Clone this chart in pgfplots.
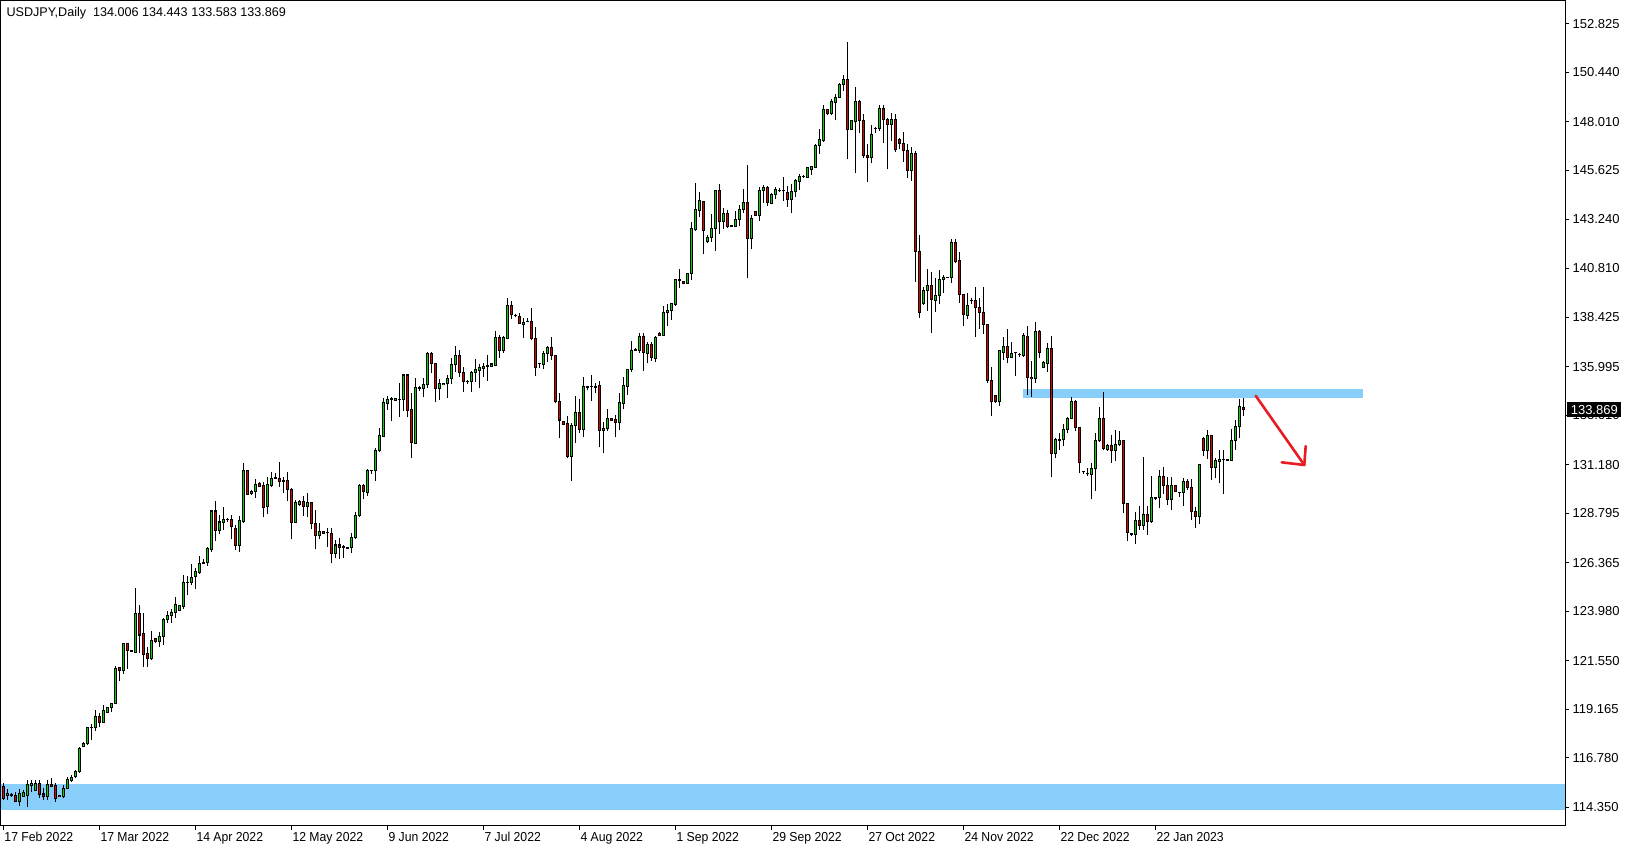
\documentclass[border=0pt]{standalone}
\usepackage{fontspec}
\setmainfont{Liberation Sans}
\newfontfamily\datefont{Liberation Sans}[FakeStretch=0.94]
\usepackage{pgfplots}
\usepackage{pgfplotstable}
\pgfplotsset{compat=1.18}

\definecolor{bullc}{RGB}{0,215,0}
\definecolor{bearc}{RGB}{225,0,0}
\definecolor{zone}{RGB}{135,206,250}
\definecolor{arrowred}{RGB}{232,28,36}

% daily USDJPY candles, k = bar number (6 bars a week)
\pgfplotstableread{
k o h l c
0 115.39 115.52 114.70 114.79
1 114.92 115.24 114.70 115.03
2 114.98 115.03 114.87 114.93
3 114.93 115.08 114.60 114.62
4 114.62 115.23 114.43 115.03
5 114.90 115.19 114.87 115.05
6 114.92 115.69 114.38 115.47
7 115.42 115.69 115.11 115.52
8 115.16 115.69 115.14 115.52
9 115.52 115.69 114.82 114.98
10 115.00 115.28 114.70 114.87
11 114.87 115.69 114.70 115.47
12 115.47 115.77 115.36 115.39
13 115.44 115.52 114.62 114.79
14 114.93 114.95 114.83 114.87
15 114.87 115.44 114.79 115.28
16 115.26 115.85 115.23 115.69
17 115.65 115.93 115.60 115.82
18 115.85 116.18 115.77 116.10
19 116.10 117.32 116.05 117.24
20 117.32 117.57 117.29 117.49
21 117.49 118.31 117.40 118.27
22 118.27 118.44 117.65 118.29
23 118.27 119.12 118.11 118.80
24 118.83 118.96 118.31 118.50
25 118.50 119.37 118.47 119.12
26 118.99 119.29 118.96 119.25
27 119.24 119.48 119.04 119.45
28 119.45 121.29 119.42 121.17
29 121.19 121.25 120.55 121.06
30 121.06 122.43 120.89 122.37
31 122.37 122.41 121.15 122.05
32 122.03 122.07 121.99 122.02
33 121.94 125.10 121.91 123.87
34 123.87 124.28 121.91 122.81
35 122.86 123.88 121.26 121.85
36 121.91 122.24 121.26 121.67
37 121.64 123.01 121.59 122.52
38 122.62 122.68 122.44 122.49
39 122.49 122.98 122.24 122.73
40 122.73 123.63 122.32 123.58
41 123.55 124.01 123.42 123.78
42 123.76 124.09 123.42 123.93
43 123.93 124.70 123.63 124.32
44 124.03 124.25 123.99 124.24
45 124.21 125.76 124.09 125.40
46 125.40 125.71 124.75 125.38
47 125.40 126.28 125.27 125.65
48 125.66 126.09 125.06 125.91
49 125.88 126.69 125.81 126.33
50 126.33 126.53 126.28 126.36
51 126.36 127.15 126.22 127.07
52 127.02 128.95 126.91 128.90
53 128.90 129.40 127.45 127.94
54 127.94 128.71 127.77 128.36
55 128.33 129.12 127.97 128.50
56 128.50 128.58 128.38 128.48
57 128.50 128.71 127.51 128.13
58 128.05 128.22 126.99 127.20
59 127.20 128.66 126.91 128.45
60 128.38 131.25 128.30 130.87
61 130.87 130.92 129.69 129.72
62 129.74 129.94 129.69 129.87
63 129.85 130.46 129.56 130.21
64 130.23 130.30 130.07 130.10
65 130.13 130.34 128.59 129.08
66 129.12 130.59 128.74 130.18
67 130.15 130.80 130.07 130.51
68 130.51 130.75 130.46 130.53
69 130.51 131.33 130.10 130.34
70 130.42 130.59 129.77 130.37
71 130.42 130.83 129.41 129.96
72 129.96 130.01 127.51 128.34
73 128.34 129.44 128.33 129.33
74 129.23 129.44 129.15 129.38
75 129.38 129.65 128.67 129.10
76 129.10 129.77 128.62 129.33
77 129.33 129.35 128.00 128.29
78 128.29 128.95 127.02 127.70
79 127.70 128.33 127.51 127.87
80 127.90 127.93 127.77 127.80
81 127.85 128.05 127.12 127.84
82 127.80 128.05 126.33 126.82
83 126.82 127.48 126.58 127.23
84 127.23 127.56 126.53 127.12
85 127.13 127.23 126.58 127.14
86 127.09 127.15 127.02 127.08
87 127.12 127.84 126.85 127.61
88 127.61 128.87 127.53 128.69
89 128.69 130.23 128.59 130.14
90 130.14 130.23 129.47 129.85
91 129.82 130.95 129.64 130.87
92 130.87 130.93 130.72 130.90
93 130.87 131.98 130.39 131.88
94 131.88 132.96 131.81 132.62
95 132.58 134.43 132.52 134.25
96 134.19 134.55 133.86 134.40
97 134.40 134.48 133.34 134.41
98 134.32 134.45 134.32 134.43
99 134.38 135.17 133.53 134.37
100 134.37 135.60 133.83 135.58
101 135.58 135.60 133.50 133.84
102 133.89 134.68 131.49 132.27
103 132.22 135.42 132.17 134.97
104 134.97 135.04 134.81 134.93
105 134.92 135.42 134.52 135.09
106 135.09 136.73 134.92 136.64
107 136.64 136.73 135.66 136.15
108 136.15 136.19 134.24 134.92
109 134.92 135.37 134.35 135.17
110 135.09 135.20 135.07 135.17
111 135.14 135.58 134.47 135.42
112 135.42 136.40 135.12 136.10
113 136.10 137.00 135.74 136.56
114 136.55 136.81 135.50 135.71
115 135.71 135.99 134.73 135.25
116 135.25 135.33 135.14 135.26
117 135.25 135.78 134.76 135.71
118 135.71 136.37 135.22 135.83
119 135.81 136.10 134.92 135.94
120 135.91 136.19 135.50 136.02
121 136.02 136.56 135.30 136.04
122 136.01 136.13 136.00 136.12
123 136.07 137.76 136.04 137.43
124 137.43 137.54 136.43 136.76
125 136.77 137.51 136.68 137.43
126 137.38 139.35 137.33 138.97
127 138.97 139.21 138.33 138.53
128 138.52 138.59 138.41 138.51
129 138.46 138.61 138.07 138.12
130 138.07 138.36 137.38 138.18
131 138.22 138.40 138.17 138.23
132 138.23 138.85 137.30 137.38
133 137.38 137.95 135.55 135.96
134 136.15 136.16 135.94 136.14
135 136.10 136.76 135.87 136.64
136 136.64 137.02 136.23 136.92
137 136.92 137.43 136.32 136.53
138 136.56 136.57 134.19 134.27
139 134.30 134.68 132.47 133.37
140 133.29 133.30 133.12 133.17
141 133.21 133.57 131.52 131.57
142 131.57 133.21 130.39 133.12
143 133.09 134.55 132.26 133.75
144 133.75 134.40 132.75 132.91
145 132.91 135.47 132.52 135.01
146 134.96 135.04 134.84 135.01
147 135.01 135.58 134.32 135.00
148 135.00 135.20 134.68 134.97
149 135.07 135.29 132.03 132.85
150 132.83 133.29 131.73 132.96
151 132.96 133.89 132.85 133.45
152 133.42 133.48 133.32 133.35
153 133.40 133.62 132.52 133.24
154 133.24 134.68 132.88 134.24
155 134.19 135.47 133.89 135.07
156 135.01 135.88 134.60 135.86
157 135.86 137.25 135.71 136.79
158 136.79 136.89 136.78 136.84
159 136.79 137.66 136.68 137.48
160 137.48 137.66 135.79 136.69
161 136.64 137.19 136.15 137.10
162 137.10 137.20 136.27 136.45
163 136.38 137.51 136.20 137.43
164 137.64 137.68 137.50 137.51
165 137.53 138.99 137.51 138.66
166 138.64 139.05 138.00 138.76
167 138.76 139.13 138.27 139.07
168 139.02 140.27 138.99 140.25
169 140.25 140.79 139.84 140.24
170 140.18 140.20 140.03 140.07
171 140.08 140.61 140.07 140.57
172 140.57 143.11 140.25 142.78
173 142.75 144.99 142.67 143.72
174 143.68 144.57 143.32 144.13
175 144.11 144.13 141.51 142.67
176 142.13 142.46 142.05 142.34
177 142.34 143.49 142.11 142.78
178 142.77 144.67 141.67 144.62
179 144.62 144.96 142.51 143.11
180 143.11 143.78 142.77 143.49
181 143.49 143.68 142.78 142.87
182 142.90 142.95 142.87 142.89
183 142.87 143.64 142.84 143.23
184 143.23 143.93 142.92 143.72
185 143.72 144.70 143.55 144.06
186 144.06 145.89 140.33 142.28
187 142.28 143.44 141.75 143.28
188 143.62 143.65 143.39 143.42
189 143.42 144.83 143.16 144.65
190 144.65 144.91 144.04 144.80
191 144.80 144.86 143.90 144.04
192 144.01 144.50 143.98 144.44
193 144.45 144.80 144.21 144.70
194 144.64 144.75 144.57 144.63
195 144.63 145.29 144.14 144.62
196 144.55 144.88 143.85 144.21
197 144.21 144.94 143.52 144.60
198 144.60 145.19 144.34 145.11
199 145.09 145.43 144.67 145.35
200 145.32 145.39 145.27 145.33
201 145.30 145.81 145.27 145.76
202 145.65 145.86 145.40 145.81
203 145.78 146.93 145.73 146.86
204 146.84 147.66 146.44 147.17
205 147.09 148.84 147.04 148.63
206 148.60 148.63 148.35 148.40
207 148.40 149.12 148.35 148.99
208 148.97 149.37 148.10 149.22
209 149.20 149.94 149.17 149.86
210 149.86 150.32 149.53 150.07
211 150.07 151.92 146.17 147.65
212 147.65 148.10 147.61 148.07
213 148.02 149.71 145.49 148.99
214 148.99 149.09 147.48 148.09
215 148.09 148.40 146.22 146.35
216 146.37 146.93 145.08 146.25
217 146.25 147.86 145.98 147.40
218 147.70 147.78 147.48 147.69
219 147.68 148.84 147.58 148.68
220 148.68 148.84 146.96 148.14
221 148.15 148.22 145.68 147.89
222 147.89 148.43 147.09 148.15
223 148.14 148.38 146.55 146.66
224 147.16 147.20 146.68 146.96
225 146.96 147.53 146.06 146.60
226 146.61 146.93 145.27 145.63
227 145.63 146.76 145.13 146.44
228 146.44 146.58 140.16 141.65
229 141.65 142.46 138.40 138.64
230 139.10 139.92 139.02 139.71
231 139.72 140.79 138.74 139.98
232 139.98 140.64 137.66 139.30
233 139.26 140.33 138.69 139.49
234 139.47 140.74 139.07 140.28
235 140.26 140.49 139.62 140.39
236 140.36 140.39 140.33 140.35
237 140.35 142.24 140.12 142.11
238 142.11 142.24 141.06 141.15
239 141.18 141.61 139.13 139.53
240 139.54 139.55 138.00 138.56
241 138.51 139.59 138.35 139.00
242 139.23 139.38 139.07 139.22
243 139.26 139.89 137.46 138.90
244 138.90 139.35 137.86 138.64
245 138.67 139.89 137.59 138.07
246 138.07 138.08 135.17 135.30
247 135.33 135.95 133.56 134.27
248 134.58 134.60 134.22 134.27
249 134.27 136.81 134.06 136.76
250 136.67 137.43 136.31 137.00
251 137.00 137.82 136.15 136.45
252 136.45 137.22 136.40 136.66
253 136.67 136.72 135.55 136.68
254 136.58 136.67 136.45 136.57
255 136.54 137.62 136.48 137.54
256 137.49 137.98 134.60 135.46
257 135.46 136.28 134.51 135.40
258 135.40 138.16 135.20 137.74
259 137.74 137.79 136.40 136.69
260 135.95 136.28 135.94 136.18
261 136.15 137.13 135.74 136.89
262 136.89 137.49 130.55 131.73
263 131.73 132.50 131.48 132.39
264 132.38 132.71 131.89 132.39
265 132.39 133.15 132.09 132.88
266 132.88 133.53 132.71 133.45
267 133.43 134.48 133.40 134.30
268 134.30 134.35 132.84 133.01
269 133.01 133.04 130.75 131.27
270 130.83 130.86 130.72 130.82
271 130.75 130.99 130.63 130.76
272 130.70 131.24 129.47 130.99
273 130.99 132.71 129.90 132.34
274 132.34 134.02 132.30 133.42
275 133.42 134.76 131.89 131.98
276 131.93 132.19 131.86 132.11
277 132.14 132.63 131.27 131.89
278 131.89 132.88 131.37 132.19
279 132.16 132.84 132.11 132.34
280 132.34 132.39 128.82 129.28
281 129.28 129.30 127.44 127.85
282 127.78 127.84 127.69 127.77
283 127.77 128.87 127.26 128.43
284 128.43 129.15 127.97 128.18
285 128.18 131.54 127.97 128.74
286 128.74 129.16 127.72 128.38
287 128.38 130.62 128.33 129.57
288 129.54 129.60 129.44 129.52
289 129.55 130.91 129.03 130.59
290 130.59 131.08 129.73 130.14
291 130.16 130.55 129.19 129.46
292 129.46 130.59 128.95 130.16
293 130.13 130.18 129.82 129.85
294 129.80 129.83 129.60 129.79
295 129.80 130.50 129.15 130.36
296 130.36 130.47 129.93 130.06
297 130.06 130.47 128.46 128.87
298 128.88 129.11 128.05 128.62
299 128.62 131.21 128.26 131.16
300 132.47 132.55 131.60 131.86
301 131.86 132.88 131.47 132.62
302 132.62 132.65 130.42 131.03
303 131.03 131.49 130.50 131.36
304 131.32 131.90 130.26 131.45
305 131.42 131.90 129.73 131.43
306 131.41 131.44 131.37 131.40
307 131.40 132.91 131.36 132.37
308 132.37 133.37 131.90 133.06
309 133.04 134.38 132.47 134.01
310 134.006 134.443 133.583 133.869
}\candles

\begin{document}
\begin{tikzpicture}
\begin{axis}[
  scale only axis, width=782pt, height=412.5pt,
  xmin=-0.575, xmax=390.425, ymin=113.429, ymax=153.950,
  clip=false,
  axis line style={black, line width=0.5pt},
  tick align=outside, major tick length=2.2pt,
  tick style={black, line width=0.5pt},
  xtick pos=left, ytick pos=right,
  xticklabel pos=left, yticklabel pos=right,
  xtick={0,24,48,72,96,120,144,168,192,216,240,264,288},
  xticklabels={17 Feb 2022,17 Mar 2022,14 Apr 2022,12 May 2022,9 Jun 2022,7 Jul 2022,4 Aug 2022,1 Sep 2022,29 Sep 2022,27 Oct 2022,24 Nov 2022,22 Dec 2022,22 Jan 2023},
  ytick={114.350,116.780,119.165,121.550,123.980,126.365,128.795,131.180,133.610,135.995,138.425,140.810,143.240,145.625,148.010,150.440,152.825},
  yticklabels={114.350,116.780,119.165,121.550,123.980,126.365,128.795,131.180,133.610,135.995,138.425,140.810,143.240,145.625,148.010,150.440,152.825},
  yticklabel style={font=\fontsize{6.5}{7}\selectfont, anchor=west, inner sep=0pt, xshift=1.4pt},
  xticklabel style={font=\datefont\fontsize{6.5}{7}\selectfont, anchor=north west, inner sep=0pt, xshift=0.4pt, yshift=-0.6pt},
  candle/.style={draw=none, mark=none,
    error bars/y dir=plus, error bars/y explicit, error bars/error mark=none},
]
% support zones
\addplot[fill=zone, draw=none] coordinates {(-0.575,114.19) (390.425,114.19) (390.425,115.47) (-0.575,115.47)} -- cycle;
\addplot[fill=zone, draw=none] coordinates {(255,134.46) (340,134.46) (340,134.89) (255,134.89)} -- cycle;

% wicks
\addplot[candle, error bars/error bar style={draw=black, line width=0.5pt}]
  table[x=k, y=l, y error plus expr={\thisrow{h}-\thisrow{l}}] {\candles};
% body outlines
\addplot[candle, error bars/error bar style={draw=black, line width=1.5pt}]
  table[x=k, y expr={min(\thisrow{o},\thisrow{c})-0.025},
        y error plus expr={abs(\thisrow{c}-\thisrow{o})+0.05}] {\candles};
% bull fills
\addplot[candle, restrict expr to domain={\thisrow{c}-\thisrow{o}}{0:100},
  error bars/error bar style={draw=bullc, line width=0.6pt}]
  table[x=k, y expr={\thisrow{o}+0.025},
        y error plus expr={max(\thisrow{c}-\thisrow{o}-0.05,0)}] {\candles};
% bear fills
\addplot[candle, restrict expr to domain={\thisrow{c}-\thisrow{o}}{-100:0},
  error bars/error bar style={draw=bearc, line width=0.6pt}]
  table[x=k, y expr={\thisrow{c}+0.025},
        y error plus expr={max(\thisrow{o}-\thisrow{c}-0.05,0)}] {\candles};

% hand drawn arrow
\addplot[arrowred, line width=1.3pt, line cap=round] coordinates {(313.1,134.56) (325.25,131.16)};
\addplot[arrowred, line width=1.3pt, line cap=round, line join=round] coordinates {(319.6,131.29) (325.25,131.16) (325.6,132.09)};

% current price box and title
\node[fill=black, text=white, anchor=west, inner xsep=1.7pt, inner ysep=0pt,
  minimum height=7.5pt, xshift=1pt, font=\fontsize{6.5}{7}\selectfont]
  at ({rel axis cs:1,0} |- {axis cs:0,133.869}) {133.869};
\node[anchor=north west, inner sep=0pt, xshift=2.6pt, yshift=-3.1pt,
  font=\fontsize{6.3}{7}\selectfont]
  at (rel axis cs:0,1) {USDJPY,Daily\ \ 134.006 134.443 133.583 133.869};
\end{axis}
\pgfresetboundingbox
\useasboundingbox ([shift={(-0.5pt,-12pt)}]current axis.south west) rectangle ([shift={(32pt,0.5pt)}]current axis.north east);
\end{tikzpicture}
\end{document}
